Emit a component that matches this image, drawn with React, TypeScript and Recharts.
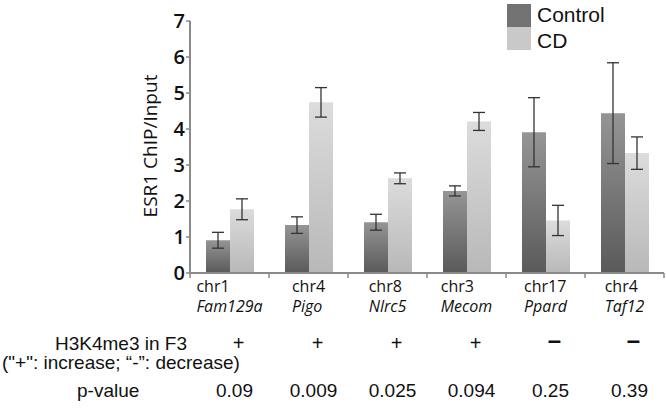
import React from 'react';
import { BarChart, Bar, XAxis, YAxis, ErrorBar, Legend } from 'recharts';

const categories = ['chr1', 'chr4', 'chr8', 'chr3', 'chr17', 'chr4'];
const genes = ['Fam129a', 'Pigo', 'Nlrc5', 'Mecom', 'Ppard', 'Taf12'];
const controlValues = [0.91, 1.33, 1.41, 2.28, 3.91, 4.44];
const controlErrors = [0.22, 0.23, 0.22, 0.14, 0.96, 1.4];
const cdValues = [1.77, 4.74, 2.63, 4.21, 1.46, 3.33];
const cdErrors = [0.29, 0.41, 0.15, 0.25, 0.42, 0.45];
const h3k4me3Marks = ['+', '+', '+', '+', '\u2013', '\u2013'];
const pValues = ['0.09', '0.009', '0.025', '0.094', '0.25', '0.39'];
const yTicks = [0, 1, 2, 3, 4, 5, 6, 7];
const seriesNames = ['Control', 'CD'];

const data = categories.map((c, i) => ({
  key: `${c}-${genes[i]}`,
  chr: c,
  gene: genes[i],
  control: controlValues[i],
  controlErr: controlErrors[i],
  cd: cdValues[i],
  cdErr: cdErrors[i],
  mark: h3k4me3Marks[i],
  p: pValues[i],
}));

const W = 666;
const H = 410;
const MARGIN = { top: 21, right: 2, left: 0, bottom: 0 };
const Y_AXIS_W = 190;
const X_AXIS_H = 137;
const PLOT_W = W - MARGIN.left - MARGIN.right - Y_AXIS_W;
const BAND = PLOT_W / categories.length;
const AXIS_COLOR = '#8a8a8a';
const LABEL_FONT = '"Open Sans", "Noto Sans", sans-serif';
const ROW_FONT = '"Liberation Sans", Arial, sans-serif';
const legendColors = ['#727272', '#c9c9c9'];

const measureCtx =
  typeof document !== 'undefined' ? document.createElement('canvas').getContext('2d') : null;
function textWidth(t: string, font: string) {
  if (!measureCtx) return t.length * 8;
  measureCtx.font = font;
  return measureCtx.measureText(t).width;
}

function CategoryTick(props: any) {
  const { y, payload } = props;
  const idx = data.findIndex((d) => d.key === payload.value);
  if (idx < 0) return null;
  const d = data[idx];
  const cx = payload.coordinate;
  const w1 = textWidth(d.chr, `16px "Open Sans"`);
  const w2 = textWidth(d.gene, `italic 16px "Open Sans"`);
  const left = cx - Math.max(w1, w2) / 2;
  const isLast = idx === data.length - 1;
  const isDash = d.mark !== '+';
  return (
    <g>
      <line x1={cx - BAND / 2} x2={cx - BAND / 2} y1={y} y2={y + 5} stroke={AXIS_COLOR} strokeWidth={1.5} />
      {isLast && (
        <line x1={cx + BAND / 2} x2={cx + BAND / 2} y1={y} y2={y + 5} stroke={AXIS_COLOR} strokeWidth={1.5} />
      )}
      <text x={left} y={y + 19} fontFamily={LABEL_FONT} fontSize={16} fill="#111">
        {d.chr}
      </text>
      <text x={left} y={y + 39} fontFamily={LABEL_FONT} fontSize={16} fontStyle="italic" fill="#111">
        {d.gene}
      </text>
      <text
        x={cx + 9}
        y={y + (isDash ? 75 : 77)}
        textAnchor="middle"
        fontFamily={ROW_FONT}
        fontSize={isDash ? 24 : 20}
        fontWeight={isDash ? 700 : 400}
        fill="#111"
      >
        {d.mark}
      </text>
      <text x={cx + 5} y={y + 124} textAnchor="middle" fontFamily={ROW_FONT} fontSize={19} fill="#111">
        {d.p}
      </text>
    </g>
  );
}

function LegendContent() {
  return (
    <div style={{ display: 'flex', flexDirection: 'column' }}>
      {seriesNames.map((n, i) => (
        <div key={n} style={{ display: 'flex', alignItems: 'center', height: 23 }}>
          <div style={{ width: 24, height: 23, background: legendColors[i] }} />
          <span
            style={{
              marginLeft: 6,
              fontSize: 21,
              fontFamily: ROW_FONT,
              color: '#111',
              lineHeight: '23px',
              position: 'relative',
              top: i === 0 ? -1 : 2,
            }}
          >
            {n}
          </span>
        </div>
      ))}
    </div>
  );
}

export default function App() {
  return (
    <div style={{ position: 'absolute', left: 0, top: 0, width: W, height: H, background: '#fff' }}>
      <BarChart width={W} height={H} data={data} margin={MARGIN} barGap={0} barCategoryGap={16}>
        <defs>
          <linearGradient id="gradControl" x1="0" y1="0" x2="0" y2="1">
            <stop offset="0%" stopColor="#959595" />
            <stop offset="100%" stopColor="#5a5a5a" />
          </linearGradient>
          <linearGradient id="gradCD" x1="0" y1="0" x2="0" y2="1">
            <stop offset="0%" stopColor="#dcdcdc" />
            <stop offset="100%" stopColor="#b8b8b8" />
          </linearGradient>
        </defs>
        <XAxis
          dataKey="key"
          height={X_AXIS_H}
          interval={0}
          tickLine={false}
          tickSize={0}
          tickMargin={0}
          axisLine={{ stroke: AXIS_COLOR, strokeWidth: 2 }}
          tick={<CategoryTick />}
        />
        <YAxis
          width={Y_AXIS_W}
          domain={[0, 7]}
          ticks={yTicks}
          interval={0}
          tickSize={4}
          tickMargin={1}
          axisLine={{ stroke: AXIS_COLOR, strokeWidth: 2 }}
          tickLine={{ stroke: AXIS_COLOR, strokeWidth: 1.5 }}
          tick={{ fontSize: 20, fontWeight: 600, fontFamily: LABEL_FONT, fill: '#111' }}
        />
        <Legend
          layout="horizontal"
          verticalAlign="middle"
          align="center"
          wrapperStyle={{ position: 'absolute', top: 4, left: 507, width: 150, height: 46 }}
          content={<LegendContent />}
        />
        <Bar dataKey="control" name="Control" fill="url(#gradControl)" isAnimationActive={false}>
          <ErrorBar dataKey="controlErr" width={6} stroke="#333" strokeWidth={1.3} />
        </Bar>
        <Bar dataKey="cd" name="CD" fill="url(#gradCD)" isAnimationActive={false}>
          <ErrorBar dataKey="cdErr" width={6} stroke="#333" strokeWidth={1.3} />
        </Bar>
      </BarChart>
      <svg
        width={W}
        height={H}
        style={{ position: 'absolute', left: 0, top: 0, pointerEvents: 'none' }}
      >
        <text
          transform="translate(150,146) rotate(-90)"
          textAnchor="middle"
          dominantBaseline="central"
          fontFamily={LABEL_FONT}
          fontSize={19}
          fill="#111"
        >
          ESR1 ChIP/Input
        </text>
        <text x={187} y={350} textAnchor="end" fontFamily={ROW_FONT} fontSize={19} fill="#111">
          H3K4me3 in F3
        </text>
        <text x={2} y={369} fontFamily={ROW_FONT} fontSize={19} fill="#111">
          {'("+": increase; \u201c-\u201d: decrease)'}
        </text>
        <text x={77} y={397} fontFamily={ROW_FONT} fontSize={19} fill="#111">
          p-value
        </text>
      </svg>
    </div>
  );
}
